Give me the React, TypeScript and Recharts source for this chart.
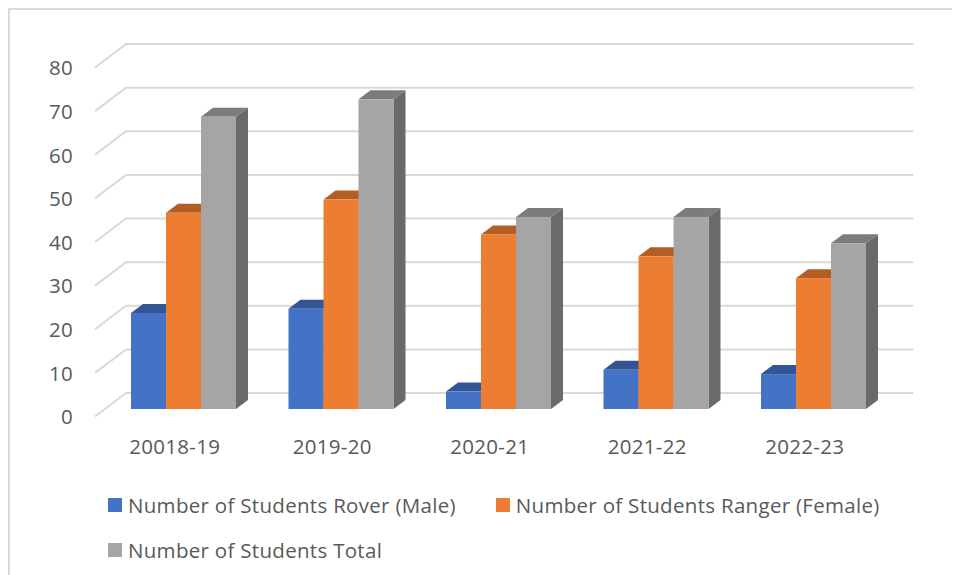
import React from 'react';
import { BarChart, Bar, CartesianGrid, XAxis, YAxis, Legend } from 'recharts';

const years = ['20018-19', '2019-20', '2020-21', '2021-22', '2022-23'];
const rover = [22, 23, 4, 9, 8];
const ranger = [45, 48, 40, 35, 30];
const total = [67, 71, 44, 44, 38];
const yTicks = [0, 10, 20, 30, 40, 50, 60, 70, 80];

const data = years.map((year, i) => ({ year, rover: rover[i], ranger: ranger[i], total: total[i] }));

const FONT = '"Open Sans", sans-serif';
const TEXT = '#595959';
const SIZE = 20.5;
const SPACING = 0.3;
const DX = 12;
const DY = 9;

// fake 3d box, the library hands us the front face
const Box = (props: any) => {
  const { x, y, width, height, front, top, side } = props;
  const b = y + height;
  const r = x + width;
  return (
    <g>
      <polygon points={`${r},${y} ${r + DX},${y - DY} ${r + DX},${b - DY} ${r},${b}`} fill={side} />
      <polygon points={`${x},${y} ${x + DX},${y - DY} ${r + DX},${y - DY} ${r},${y}`} fill={top} />
      <rect x={x} y={y} width={width} height={height} fill={front} />
    </g>
  );
};

// gridline goes along the side wall and then along the back wall
const WallLine = (props: any) => {
  const { x1, x2, y1 } = props;
  return (
    <polyline
      points={`${x1 - 10},${y1 + 7.5} ${x1 + 21},${y1 - 16} ${x2 + 21},${y1 - 16}`}
      fill="none"
      stroke="#d9d9d9"
      strokeWidth={2}
    />
  );
};

const LegendBox = ({ payload }: any) => (
  <div style={{ height: 0, display: 'flex', flexWrap: 'wrap', columnGap: 40, rowGap: 19 }}>
    {(payload || []).map((item: any) => (
      <div key={item.value} style={{ display: 'flex', alignItems: 'center', height: 26 }}>
        <span style={{ width: 14, height: 14, background: item.color, marginRight: 6 }} />
        <span style={{ fontFamily: FONT, fontSize: SIZE, letterSpacing: SPACING, color: TEXT, whiteSpace: 'nowrap' }}>{item.value}</span>
      </div>
    ))}
  </div>
);

export default function App() {
  return (
    <div style={{ position: 'relative', width: 960, height: 575, margin: '-8px 0 0 -8px', overflow: 'hidden', background: '#fff' }}>
      <div style={{ position: 'absolute', left: 8, top: 8, width: 1000, height: 640, border: '2px solid #d9d9d9', boxSizing: 'border-box' }} />
      <BarChart
        width={960}
        height={575}
        data={data}
        margin={{ top: 60, right: 67.5, bottom: 126, left: 0 }}
        barSize={35}
        barGap={0}
        style={{ position: 'absolute', left: 0, top: 0 }}
      >
        <CartesianGrid vertical={false} horizontal={(p: any) => <WallLine key={p.index} {...p} />} />
        <XAxis
          dataKey="year"
          axisLine={false}
          tickLine={false}
          tickSize={0}
          tickMargin={30}
          height={40}
          tick={{ fontFamily: FONT, fontSize: SIZE, letterSpacing: SPACING, fill: TEXT, dx: -9 }}
        />
        <YAxis
          domain={[0, 80]}
          ticks={yTicks}
          width={105}
          axisLine={false}
          tickLine={false}
          tickSize={0}
          tickMargin={32}
          tick={{ fontFamily: FONT, fontSize: SIZE, letterSpacing: SPACING, fill: TEXT, dy: 8 }}
        />
        <Legend
          verticalAlign="bottom"
          itemSorter={null}
          wrapperStyle={{ left: 108, top: 492, width: 780 }}
          content={<LegendBox />}
        />
        <Bar
          dataKey="rover"
          name="Number of Students Rover (Male)"
          fill="#4472c4"
          isAnimationActive={false}
          shape={<Box front="#4472c4" top="#335593" side="#2f5291" />}
        />
        <Bar
          dataKey="ranger"
          name="Number of Students Ranger (Female)"
          fill="#ed7d31"
          isAnimationActive={false}
          shape={<Box front="#ed7d31" top="#b25e25" side="#a85820" />}
        />
        <Bar
          dataKey="total"
          name="Number of Students Total"
          fill="#a5a5a5"
          isAnimationActive={false}
          shape={<Box front="#a5a5a5" top="#7c7c7c" side="#6a6a6a" />}
        />
      </BarChart>
    </div>
  );
}
